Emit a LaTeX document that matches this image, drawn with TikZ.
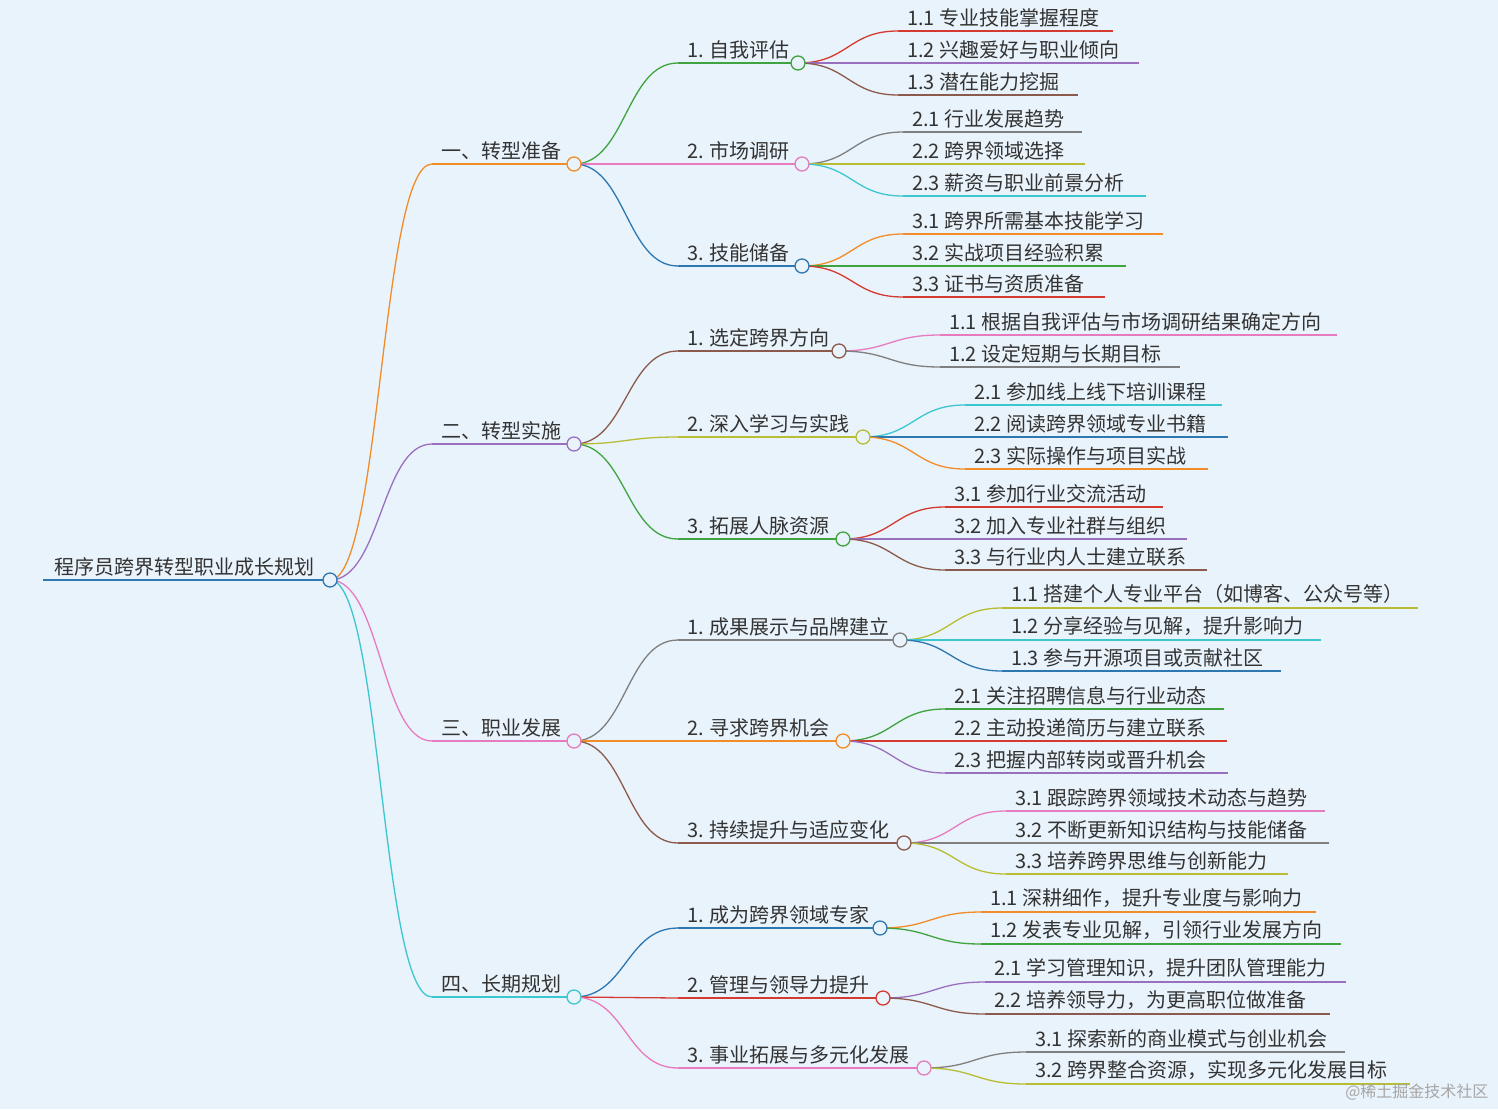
\documentclass[tikz,border=0pt]{standalone}
\usepackage{fontspec}
\setmainfont{Noto Sans CJK SC}
\definecolor{bg}{HTML}{E9F3FB}
\definecolor{cOr}{HTML}{F28C28}
\definecolor{cPu}{HTML}{9A6FC0}
\definecolor{cPk}{HTML}{E67BBF}
\definecolor{cCy}{HTML}{3CC6D0}
\definecolor{cGr}{HTML}{3FA33F}
\definecolor{cRe}{HTML}{D43A2F}
\definecolor{cBr}{HTML}{8C5A4C}
\definecolor{cGy}{HTML}{7F7F7F}
\definecolor{cOl}{HTML}{B8BD33}
\definecolor{cBl}{HTML}{2E78B2}
\tikzset{lnk/.style={line width=1.3pt},txt/.style={anchor=south west,inner sep=1pt,font=\fontsize{20}{20}\selectfont,text=black!80}}
\newcommand\mmlink[5]{\draw[lnk,#5] (#1,#2) .. controls ({(#1+#3)/2},#2) and ({(#1+#3)/2},#4) .. (#3,#4);}
\newcommand\mmleaf[7]{\mmlink{#1}{#2}{#3}{#4}{#6}\draw[lnk,#6] (#3,#4)--(#5,#4);\node[txt] at ({#3+8},{#4-3}) {#7};}
\newcommand\mmdot[3]{\draw[line width=1.3pt,#3,fill=bg] (#1,#2) circle (7);}
\begin{document}
\begin{tikzpicture}[x=1pt,y=-1pt]
\fill[bg] (0,0) rectangle (1498,1109);
\useasboundingbox (0,0) rectangle (1498,1109);
\draw[lnk,cBl] (43,580)--(330,580);
\node[txt] at (53,577) {程序员跨界转型职业成长规划};
\mmleaf{330}{580}{432}{164}{574}{cOr}{一、转型准备}
\mmleaf{330}{580}{432}{444}{574}{cPu}{二、转型实施}
\mmleaf{330}{580}{432}{741}{574}{cPk}{三、职业发展}
\mmleaf{330}{580}{432}{997}{574}{cCy}{四、长期规划}
\mmdot{330}{580}{cBl}
\mmleaf{574}{164}{678}{63}{798}{cGr}{1. 自我评估}
\mmleaf{798}{63}{898}{31}{1113}{cRe}{1.1 专业技能掌握程度}
\mmleaf{798}{63}{898}{63}{1139}{cPu}{1.2 兴趣爱好与职业倾向}
\mmleaf{798}{63}{898}{95}{1078}{cBr}{1.3 潜在能力挖掘}
\mmdot{798}{63}{cGr}
\mmleaf{574}{164}{678}{164}{802}{cPk}{2. 市场调研}
\mmleaf{802}{164}{903}{132}{1082}{cGy}{2.1 行业发展趋势}
\mmleaf{802}{164}{903}{164}{1085}{cOl}{2.2 跨界领域选择}
\mmleaf{802}{164}{903}{196}{1146}{cCy}{2.3 薪资与职业前景分析}
\mmdot{802}{164}{cPk}
\mmleaf{574}{164}{678}{266}{802}{cBl}{3. 技能储备}
\mmleaf{802}{266}{903}{234}{1163}{cOr}{3.1 跨界所需基本技能学习}
\mmleaf{802}{266}{903}{266}{1126}{cGr}{3.2 实战项目经验积累}
\mmleaf{802}{266}{903}{297}{1105}{cRe}{3.3 证书与资质准备}
\mmdot{802}{266}{cBl}
\mmdot{574}{164}{cOr}
\mmleaf{574}{444}{678}{351}{839}{cBr}{1. 选定跨界方向}
\mmleaf{839}{351}{940}{335}{1337}{cPk}{1.1 根据自我评估与市场调研结果确定方向}
\mmleaf{839}{351}{940}{367}{1180}{cGy}{1.2 设定短期与长期目标}
\mmdot{839}{351}{cBr}
\mmleaf{574}{444}{678}{437}{863}{cOl}{2. 深入学习与实践}
\mmleaf{863}{437}{965}{405}{1222}{cCy}{2.1 参加线上线下培训课程}
\mmleaf{863}{437}{965}{437}{1228}{cBl}{2.2 阅读跨界领域专业书籍}
\mmleaf{863}{437}{965}{469}{1208}{cOr}{2.3 实际操作与项目实战}
\mmdot{863}{437}{cOl}
\mmleaf{574}{444}{678}{539}{843}{cGr}{3. 拓展人脉资源}
\mmleaf{843}{539}{945}{507}{1163}{cRe}{3.1 参加行业交流活动}
\mmleaf{843}{539}{945}{539}{1187}{cPu}{3.2 加入专业社群与组织}
\mmleaf{843}{539}{945}{570}{1207}{cBr}{3.3 与行业内人士建立联系}
\mmdot{843}{539}{cGr}
\mmdot{574}{444}{cPu}
\mmleaf{574}{741}{678}{640}{900}{cGy}{1. 成果展示与品牌建立}
\mmleaf{900}{640}{1002}{608}{1418}{cOl}{1.1 搭建个人专业平台（如博客、公众号等）}
\mmleaf{900}{640}{1002}{640}{1321}{cCy}{1.2 分享经验与见解，提升影响力}
\mmleaf{900}{640}{1002}{671}{1281}{cBl}{1.3 参与开源项目或贡献社区}
\mmdot{900}{640}{cGy}
\mmleaf{574}{741}{678}{741}{843}{cOr}{2. 寻求跨界机会}
\mmleaf{843}{741}{945}{709}{1224}{cGr}{2.1 关注招聘信息与行业动态}
\mmleaf{843}{741}{945}{741}{1227}{cRe}{2.2 主动投递简历与建立联系}
\mmleaf{843}{741}{945}{773}{1228}{cPu}{2.3 把握内部转岗或晋升机会}
\mmdot{843}{741}{cOr}
\mmleaf{574}{741}{678}{843}{904}{cBr}{3. 持续提升与适应变化}
\mmleaf{904}{843}{1006}{811}{1325}{cPk}{3.1 跟踪跨界领域技术动态与趋势}
\mmleaf{904}{843}{1006}{843}{1329}{cGy}{3.2 不断更新知识结构与技能储备}
\mmleaf{904}{843}{1006}{874}{1288}{cOl}{3.3 培养跨界思维与创新能力}
\mmdot{904}{843}{cBr}
\mmdot{574}{741}{cPk}
\mmleaf{574}{997}{678}{928}{880}{cBl}{1. 成为跨界领域专家}
\mmleaf{880}{928}{981}{912}{1316}{cOr}{1.1 深耕细作，提升专业度与影响力}
\mmleaf{880}{928}{981}{944}{1341}{cGr}{1.2 发表专业见解，引领行业发展方向}
\mmdot{880}{928}{cBl}
\mmleaf{574}{997}{678}{998}{883}{cRe}{2. 管理与领导力提升}
\mmleaf{883}{998}{985}{982}{1346}{cPu}{2.1 学习管理知识，提升团队管理能力}
\mmleaf{883}{998}{985}{1014}{1330}{cBr}{2.2 培养领导力，为更高职位做准备}
\mmdot{883}{998}{cRe}
\mmleaf{574}{997}{678}{1068}{924}{cPk}{3. 事业拓展与多元化发展}
\mmleaf{924}{1068}{1026}{1052}{1345}{cGy}{3.1 探索新的商业模式与创业机会}
\mmleaf{924}{1068}{1026}{1084}{1410}{cOl}{3.2 跨界整合资源，实现多元化发展目标}
\mmdot{924}{1068}{cPk}
\mmdot{574}{997}{cCy}
\node[anchor=east,font=\fontsize{16}{16}\selectfont,text=black!35] (wm) at (1492,1092) {@稀土掘金技术社区};
\end{tikzpicture}
\end{document}
